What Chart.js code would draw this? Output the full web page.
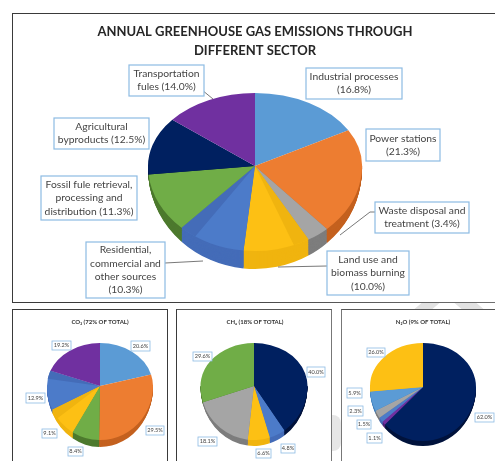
<!DOCTYPE html>
<html><head><meta charset="utf-8">
<script src="https://cdn.jsdelivr.net/npm/chart.js@4"></script>
<style>
html,body{margin:0;padding:0;background:#fff;overflow:hidden;width:495px;height:461px}
#page{position:relative;width:495px;height:461px;overflow:hidden;filter:blur(0.35px)}
.frame{position:absolute;box-sizing:border-box;border:1.5px solid #3a3a3a;background:#fff}
.mark{position:absolute;background:#e2e2e2}
canvas{position:absolute}
</style></head><body>
<div id="page">
<div class="mark" style="left:418px;top:303px;width:18px;height:6px;transform:skewX(-50deg)"></div>
<div class="mark" style="left:458px;top:303px;width:22px;height:6px;transform:skewX(50deg)"></div>
<div class="mark" style="left:332px;top:415px;width:9px;height:36px;background:#e6e6e6;border-radius:0 8px 8px 0"></div>
<div class="frame" style="left:12px;top:13px;width:500px;height:290px;background:#fff"></div>
<div class="frame" style="left:12px;top:309px;width:156px;height:170px"></div>
<div class="frame" style="left:176px;top:309px;width:156px;height:170px;border-right-color:#777;border-top-color:#555"></div>
<div class="frame" style="left:341px;top:309px;width:170px;height:170px;border-left-color:#777;border-top-color:#555"></div>
<div style="position:absolute;left:150px;top:301.5px;width:345px;height:1.5px;background:linear-gradient(90deg,#3a3a3a,#707070)"></div>
<canvas id="c0"></canvas><canvas id="c1"></canvas><canvas id="c2"></canvas><canvas id="c3"></canvas>
</div>
<script>
const BLUE='#5b9bd5',ORANGE='#ed7d31',GRAY='#a5a5a5',YELLOW='#fdc014',DBLUE='#4c7bc9',GREEN='#70ad47',NAVY='#002060',PURPLE='#7030a0';
const WALL={[BLUE]:'#3f7cb8',[ORANGE]:'#c4611f',[GRAY]:'#7d7d7d',[YELLOW]:'#f0b40f',[DBLUE]:'#446cb8',[GREEN]:'#4d7a2e',[NAVY]:'#00133c',[PURPLE]:'#4f2174'};

const mainTitle=['ANNUAL GREENHOUSE GAS EMISSIONS THROUGH','DIFFERENT SECTOR'];
const mainValues=[16.8,21.3,3.4,10.0,10.3,11.3,12.5,14.0];
const mainColors=[BLUE,ORANGE,GRAY,YELLOW,DBLUE,GREEN,NAVY,PURPLE];
const mainLabels=[['Industrial processes','(16.8%)'],['Power stations','(21.3%)'],['Waste disposal and','treatment (3.4%)'],['Land use and','biomass burning','(10.0%)'],['Residential,','commercial and','other sources','(10.3%)'],['Fossil fule retrieval,','processing and','distribution (11.3%)'],['Agricultural','byproducts (12.5%)'],['Transportation','fules (14.0%)']];

const co2Title='CO₂ (72% OF TOTAL)';
const co2Values=[20.6,29.5,8.4,9.1,12.9,19.2];
const co2Colors=[BLUE,ORANGE,GREEN,YELLOW,DBLUE,PURPLE];
const co2Labels=['20.6%','29.5%','8.4%','9.1%','12.9%','19.2%'];

const ch4Title='CH₄ (18% OF TOTAL)';
const ch4Values=[40.0,4.8,6.6,18.1,29.6];
const ch4Colors=[NAVY,DBLUE,YELLOW,GRAY,GREEN];
const ch4Labels=['40.0%','4.8%','6.6%','18.1%','29.6%'];

const n2oTitle='N₂O (9% OF TOTAL)';
const n2oValues=[62.0,1.1,1.5,2.3,5.9,26.0];
const n2oColors=[NAVY,PURPLE,DBLUE,GRAY,BLUE,YELLOW];
const n2oLabels=['62.0%','1.1%','1.5%','2.3%','5.9%','26.0%'];

function makePie(id,g,title,values,colors,labels){
  const cv=document.getElementById(id);
  cv.style.left=g.left+'px';cv.style.top=g.top+'px';
  cv.width=g.w;cv.height=g.h;cv.style.width=g.w+'px';cv.style.height=g.h+'px';
  const cx=g.cx-g.left,cy=g.cy-g.top;
  const plugin={id:'pie3d',
    beforeDatasetsDraw(chart){
      const ctx=chart.ctx,arcs=chart.getDatasetMeta(0).data;
      const place=(a,ry,dy,top,fn)=>{
        ctx.save();ctx.beginPath();
        if(top)ctx.rect(0,0,g.w,cy+0.3);else ctx.rect(0,cy+dy,g.w,g.h);
        ctx.clip();
        ctx.translate(cx,cy+dy);ctx.scale(g.rx/a.outerRadius,ry/a.outerRadius);ctx.translate(-a.x,-a.y);
        fn();ctx.restore();
      };
      const paint=(a,color,s,e)=>{
        const v=Object.create(a);
        v.options=Object.create(a.options);v.options.backgroundColor=color;
        if(s!==undefined){v.startAngle=s;v.endAngle=e;v.circumference=e-s;}
        v.draw(ctx);
      };
      const steps=Math.ceil(g.wallGrow+g.wallDrop);
      for(let n=steps;n>=1;n--){
        const t=n/steps;
        arcs.forEach((a,i)=>place(a,g.ryB+t*g.wallGrow,t*g.wallDrop,false,()=>paint(a,WALL[colors[i]]||colors[i])));
      }
      [true,false].forEach(top=>arcs.forEach((a,i)=>{
        place(a,top?g.ryT:g.ryB,0,top,()=>{
          paint(a,colors[i]);
          const b=(g.bands||{})[i];
          if(b){const w=b.w*Math.PI*2/100;
            if(b.side==='end')paint(a,WALL[colors[i]],a.endAngle-w,a.endAngle);
            else paint(a,WALL[colors[i]],a.startAngle,a.startAngle+w);}
        });
      }));
      return false;
    },
    afterDraw(chart){
      const ctx=chart.ctx;
      ctx.save();
      (g.leaders||[]).forEach(p=>{
        ctx.strokeStyle='#555';ctx.lineWidth=0.8;ctx.beginPath();
        p.forEach((q,i)=>{const X=q[0]-g.left,Y=q[1]-g.top;i?ctx.lineTo(X,Y):ctx.moveTo(X,Y);});
        ctx.stroke();
      });
      g.boxes.forEach((b,i)=>{
        const x=b[0]-g.left,y=b[1]-g.top,w=b[2]-b[0],h=b[3]-b[1];
        ctx.fillStyle='#fff';ctx.fillRect(x,y,w,h);
        ctx.strokeStyle='#8dbbe3';ctx.lineWidth=g.boxLine;ctx.strokeRect(x,y,w,h);
        const lines=[].concat(labels[i]);
        ctx.fillStyle='#444';ctx.font=g.labelFont;ctx.textAlign='center';ctx.textBaseline='middle';
        lines.forEach((t,k)=>ctx.fillText(t,x+w/2,y+h/2+(k-(lines.length-1)/2)*g.lh));
      });
      ctx.restore();
    }
  };
  return new Chart(cv,{type:'pie',
    data:{labels:labels.map(l=>[].concat(l).join(' ')),datasets:[{data:values,backgroundColor:colors,borderWidth:0}]},
    options:{responsive:false,animation:false,devicePixelRatio:window.devicePixelRatio||1,
      layout:{padding:{top:0,bottom:0}},
      plugins:{legend:{display:false},tooltip:{enabled:false},
        title:{display:true,text:title,color:g.titleColor,font:{family:'Lato',size:g.titleSize,weight:'bold',lineHeight:g.titleLH},padding:{top:g.titleTop,bottom:2}}}},
    plugins:[plugin]});
}

Chart.defaults.font.family='Lato';

makePie('c0',{left:12,top:13,w:486,h:288,cx:255,cy:166,rx:107,ryT:73,ryB:85,wallDrop:3,wallGrow:15,titleSize:13,titleLH:1.42,titleTop:10,titleColor:'#262626',
  labelFont:'10.3px Lato',lh:13.3,boxLine:1.2,
  bands:{3:{side:'start',w:2.4},4:{side:'end',w:2.6}},
  boxes:[[306,68,402,99],[366,129,440,161],[375,202,469,233],[327,251,409,295],[86,242,165,298],[41,176,137,220],[54,118,149,149],[129,65,204,96]],
  leaders:[[[375,212],[370,212],[340,235]],[[327,266],[278,267]],[[165,263],[203,261]],[[202,90],[213,99]]]
},mainTitle,mainValues,mainColors,mainLabels);

makePie('c1',{left:12,top:310,w:176,h:151,cx:100,cy:386,rx:53,ryT:43,ryB:54,wallDrop:1,wallGrow:6,titleSize:6,titleLH:1.2,titleTop:8,titleColor:'#333',
  labelFont:'5.6px Lato',lh:7,boxLine:0.8,
  bands:{3:{side:'end',w:3},4:{side:'end',w:3}},
  boxes:[[131,341,150,351],[146,426,164,435],[68,447,83,456],[42,429,57,438],[26,393,45,403],[52,341,71,350]]
},co2Title,co2Values,co2Colors,co2Labels);

makePie('c2',{left:176,top:310,w:158,h:151,cx:254,cy:386,rx:53.5,ryT:43,ryB:54,wallDrop:1,wallGrow:5,titleSize:6,titleLH:1.2,titleTop:8,titleColor:'#333',
  labelFont:'5.6px Lato',lh:7,boxLine:0.8,
  boxes:[[307,367,325,377],[281,444,295,453],[256,449,271,458],[198,437,217,446],[193,352,212,361]]
},ch4Title,ch4Values,ch4Colors,ch4Labels);

makePie('c3',{left:341,top:310,w:164,h:151,cx:423,cy:387,rx:53,ryT:44,ryB:54,wallDrop:1,wallGrow:4,titleSize:6,titleLH:1.2,titleTop:8,titleColor:'#333',
  labelFont:'5.6px Lato',lh:7,boxLine:0.8,
  boxes:[[475,413,494,422],[367,433,382,443],[357,420,371,429],[348,406,363,416],[347,388,362,398],[367,348,385,357]]
},n2oTitle,n2oValues,n2oColors,n2oLabels);
</script>
</body></html>
